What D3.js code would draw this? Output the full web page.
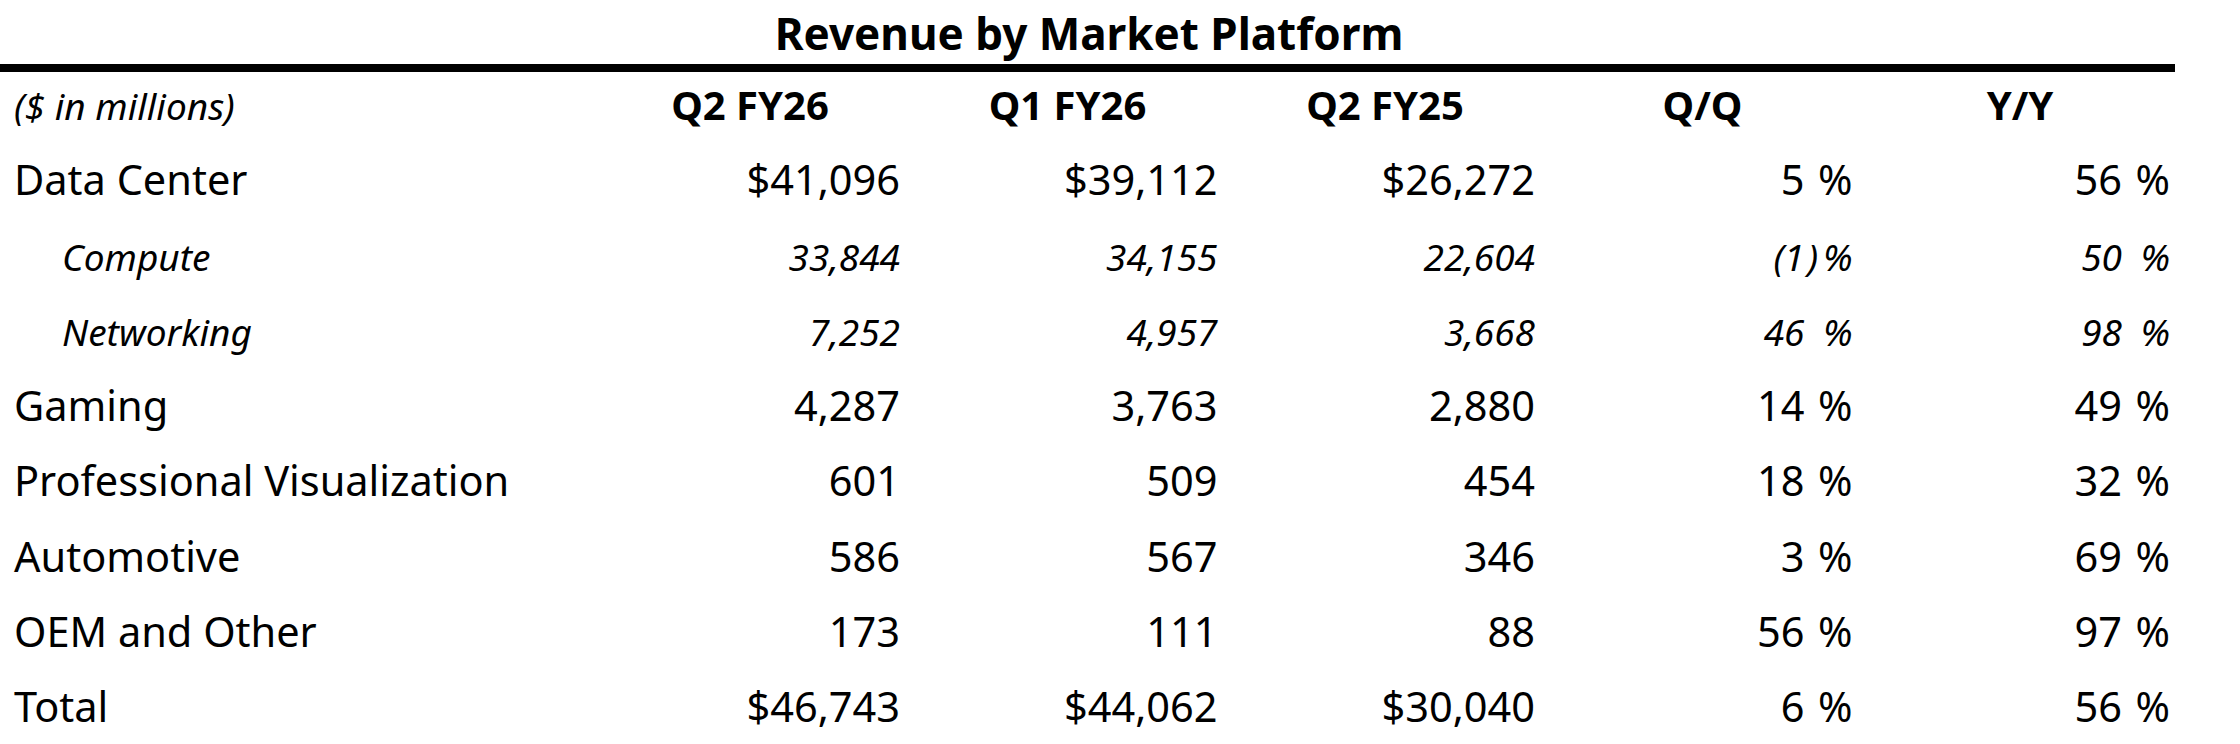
<!DOCTYPE html>
<html>
<head>
<meta charset="utf-8">
<script src="https://cdn.jsdelivr.net/npm/d3@7"></script>
<style>
  html, body { margin: 0; padding: 0; background: #fff; }
  svg { display: block; font-family: "Noto Sans", sans-serif; }
</style>
</head>
<body>
<div id="container"></div>
<script>
var title = "Revenue by Market Platform";
var unitsLabel = "($ in millions)";
var columns = ["Q2 FY26", "Q1 FY26", "Q2 FY25", "Q/Q", "Y/Y"];
var rows = ["Data Center", "Compute", "Networking", "Gaming",
  "Professional Visualization", "Automotive", "OEM and Other", "Total"];
var subRows = ["Compute", "Networking"];
var dollarRows = ["Data Center", "Total"];

var q2fy26 = [41096, 33844, 7252, 4287, 601, 586, 173, 46743];
var q1fy26 = [39112, 34155, 4957, 3763, 509, 567, 111, 44062];
var q2fy25 = [26272, 22604, 3668, 2880, 454, 346, 88, 30040];
var qoq = [5, -1, 46, 14, 18, 3, 56, 6];
var yoy = [56, 50, 98, 49, 32, 69, 97, 56];

var width = 2240, height = 744;

var svg = d3.select("#container").append("svg")
  .attr("width", width)
  .attr("height", height);

// row baselines (header line first) and right edges of the value columns
var y = d3.scalePoint().domain(["header"].concat(rows)).range([120, 722]);
var x = d3.scalePoint().domain(columns).range([900, 2170]);

svg.append("text")
  .attr("x", 1089)
  .attr("y", 50)
  .attr("text-anchor", "middle")
  .attr("font-size", 44)
  .attr("font-weight", 700)
  .text(title);

svg.append("rect")
  .attr("x", 0)
  .attr("y", 64)
  .attr("width", 2175)
  .attr("height", 8)
  .attr("fill", "#000");

svg.append("text")
  .attr("x", 14)
  .attr("y", y("header"))
  .attr("font-size", 37)
  .attr("font-style", "italic")
  .text(unitsLabel);

svg.selectAll("text.colhead")
  .data(columns)
  .enter().append("text")
  .attr("class", "colhead")
  .attr("x", function (d){ return x(d) - 150; })
  .attr("y", y("header"))
  .attr("text-anchor", "middle")
  .attr("font-size", 40)
  .attr("font-weight", 700)
  .text(function (d){ return d; });

var fmt = d3.format(",");

var table = rows.map(function (name, i){
  return {
    name: name,
    sub: subRows.indexOf(name) >= 0,
    dollar: dollarRows.indexOf(name) >= 0,
    money: [q2fy26[i], q1fy26[i], q2fy25[i]],
    pct: [qoq[i], yoy[i]]
  };
});

var row = svg.selectAll("g.row")
  .data(table)
  .enter().append("g")
  .attr("class", "row")
  .attr("transform", function (d){ return "translate(0," + y(d.name) + ")"; })
  .attr("font-size", function (d){ return d.sub ? 37 : 41.5; })
  .attr("font-style", function (d){ return d.sub ? "italic" : "normal"; });

row.append("text")
  .attr("x", function (d){ return d.sub ? 62 : 14; })
  .text(function (d){ return d.name; });

row.selectAll("text.money")
  .data(function (d){
    return d.money.map(function (v, j){ return { col: columns[j], text: (d.dollar ? "$" : "") + fmt(v) }; });
  })
  .enter().append("text")
  .attr("class", "money")
  .attr("x", function (d){ return x(d.col); })
  .attr("text-anchor", "end")
  .text(function (d){ return d.text; });

var pctCells = row.selectAll("g.pct")
  .data(function (d){
    return d.pct.map(function (v, j){ return { col: columns[3 + j], v: v }; });
  })
  .enter().append("g")
  .attr("class", "pct");

// digits end before a gap, negatives in parentheses, % sign flush right
pctCells.append("text")
  .attr("x", function (d){ return x(d.col) - 48; })
  .attr("text-anchor", "end")
  .text(function (d){ return d.v < 0 ? "(" + fmt(-d.v) : fmt(d.v); });

pctCells.filter(function (d){ return d.v < 0; })
  .append("text")
  .attr("x", function (d){ return x(d.col) - 45; })
  .text(")");

pctCells.append("text")
  .attr("x", function (d){ return x(d.col); })
  .attr("text-anchor", "end")
  .text("%");
</script>
</body>
</html>
